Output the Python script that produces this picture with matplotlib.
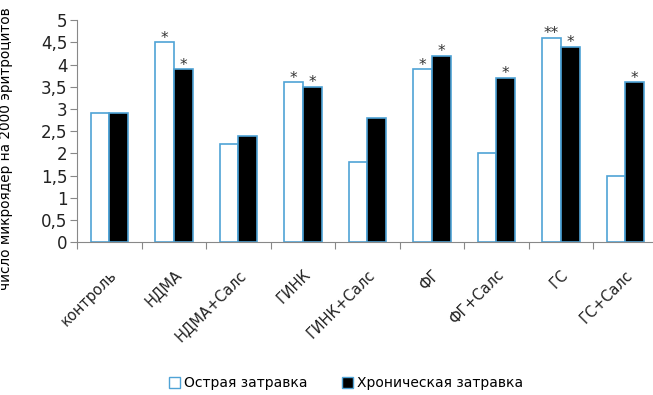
import numpy as np
import matplotlib.pyplot as plt
from matplotlib.patches import Patch

categories = ["контроль", "НДМА", "НДМА+Салс", "ГИНК", "ГИНК+Салс",
              "ФГ", "ФГ+Салс", "ГС", "ГС+Салс"]
acute = [2.9, 4.5, 2.2, 3.6, 1.8, 3.9, 2.0, 4.6, 1.5]
chronic = [2.9, 3.9, 2.4, 3.5, 2.8, 4.2, 3.7, 4.4, 3.6]
acute_marks = ["", "*", "", "*", "", "*", "", "**", ""]
chronic_marks = ["", "*", "", "*", "", "*", "*", "*", "*"]
y_ticks = [0, 0.5, 1, 1.5, 2, 2.5, 3, 3.5, 4, 4.5, 5]

edge = "#4fa3d6"
plt.rcParams["font.family"] = ["DejaVu Sans"]

fig = plt.figure(figsize=(6.53, 3.95), dpi=100)
ax = fig.add_axes([0.118, 0.387, 0.889, 0.562])

x = np.arange(len(categories))
w = 0.29
ax.bar(x - w / 2, acute, w, color="white", edgecolor=edge, linewidth=1.2)
ax.bar(x + w / 2, chronic, w, color="black", edgecolor=edge, linewidth=1.2)

for i in range(len(categories)):
    if acute_marks[i]:
        ax.text(x[i] - w / 2, acute[i] - 0.08, acute_marks[i], ha="center",
                va="bottom", fontsize=11, color="#333333")
    if chronic_marks[i]:
        ax.text(x[i] + w / 2, chronic[i] - 0.08, chronic_marks[i], ha="center",
                va="bottom", fontsize=11, color="#333333")

ax.set_xlim(-0.5, len(categories) - 0.5)
ax.set_ylim(0, 5)
ax.set_yticks(y_ticks)
ax.set_yticklabels([f"{v:g}".replace(".", ",") for v in y_ticks],
                   fontsize=12, color="#222222")
ax.set_ylabel("число микроядер на 2000 эритроцитов", fontsize=9.8)
ax.yaxis.set_label_coords(-0.11, 0.42)

# category ticks sit between groups, labels are centred under groups
ax.set_xticks(np.arange(len(categories) + 1) - 0.5)
ax.set_xticklabels([])
ax.set_xticks(x, minor=True)
ax.set_xticklabels(categories, minor=True, rotation=45, ha="right",
                   rotation_mode="anchor", fontsize=10.5, color="#222222")
ax.tick_params(axis="x", which="minor", length=0, pad=18)
ax.tick_params(axis="x", which="major", length=5, color="#888888")
ax.tick_params(axis="y", length=5, color="#888888", pad=2)

for side in ["top", "right"]:
    ax.spines[side].set_visible(False)
for side in ["left", "bottom"]:
    ax.spines[side].set_color("#888888")

handles = [Patch(facecolor="white", edgecolor=edge, label="Острая затравка"),
           Patch(facecolor="black", edgecolor=edge, label="Хроническая затравка")]
fig.legend(handles=handles, loc="center", bbox_to_anchor=(0.53, 0.03),
           ncol=2, frameon=False, fontsize=10, handlelength=0.8,
           handleheight=0.8, handletextpad=0.3, columnspacing=2.5)

fig.savefig("out.png", dpi=100)
